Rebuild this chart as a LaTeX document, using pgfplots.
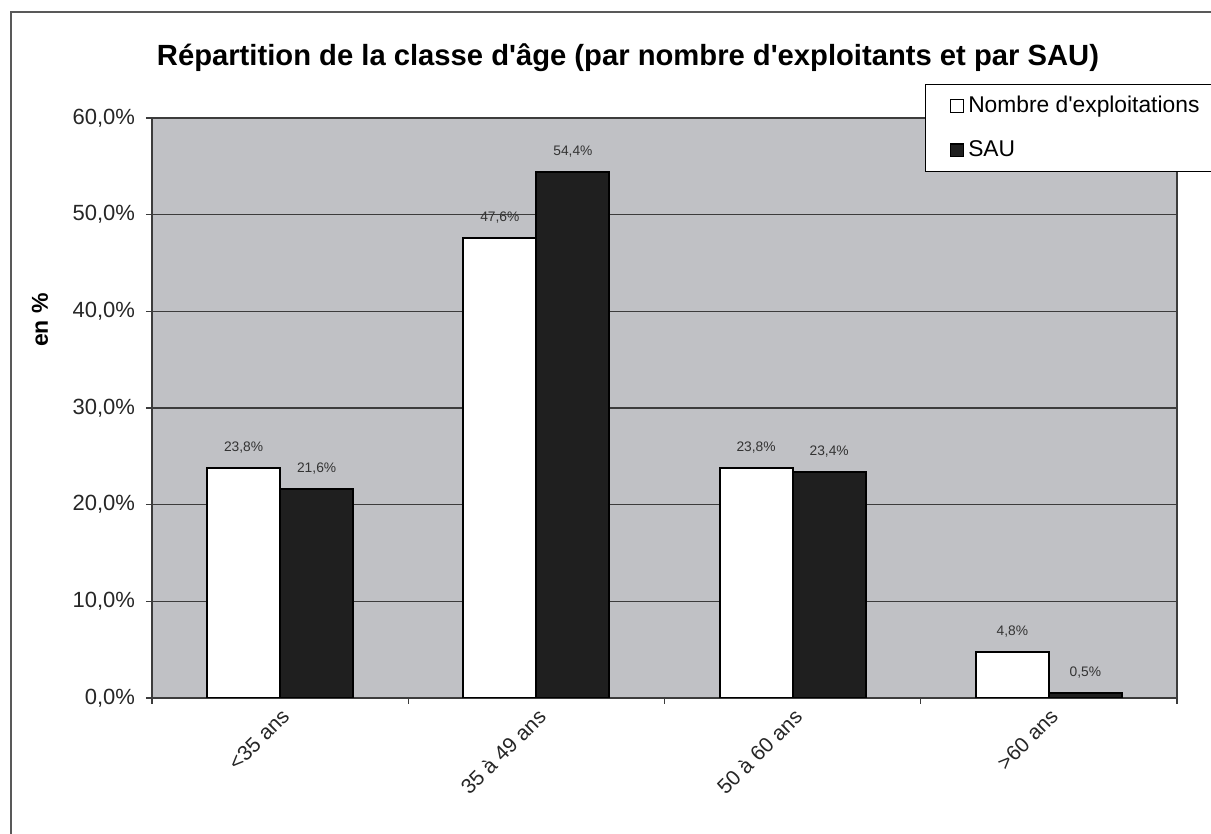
\documentclass[border=0pt]{standalone}
\usepackage{pgfplots}
\pgfplotsset{compat=1.18}
\usepackage{fontspec}
\setmainfont{Liberation Sans}
\definecolor{plotbg}{RGB}{192,193,197}
\definecolor{gridc}{RGB}{60,60,60}
\begin{document}
\begin{tikzpicture}
\path[use as bounding box] (0,0) rectangle (605.5pt,417pt);
\draw[gray!70!black, line width=0.6pt] (5.5pt,0) -- (5.5pt,411pt) -- (606pt,411pt);
\node[font=\bfseries\fontsize{14.6}{17}\selectfont] at (314pt,388pt)
  {Répartition de la classe d\textquotesingle âge (par nombre d\textquotesingle exploitants et par SAU)};
\node[font=\bfseries\fontsize{11.5}{13}\selectfont, rotate=90] at (20pt,257pt) {en \%};
\begin{axis}[
  at={(76pt,68pt)}, anchor=south west,
  scale only axis, width=512.5pt, height=290pt,
  /pgf/number format/assume math mode=true,
  axis background/.style={fill=plotbg},
  axis line style={draw=gridc, line width=0.7pt},
  ymin=0, ymax=60, xmin=-0.5, xmax=3.5,
  ytick={0,10,...,60},
  yticklabel={\pgfmathprintnumber[fixed,fixed zerofill,precision=1,use comma]{\tick}\%},
  yticklabel style={font=\fontsize{11}{12}\selectfont, text=black!85, xshift=-2pt},
  ymajorgrids, grid style={gridc, line width=0.6pt},
  xtick={-0.5,0.5,1.5,2.5,3.5}, x tick label as interval,
  xticklabels={<35 ans, 35 à 49 ans, 50 à 60 ans, >60 ans},
  xticklabel style={rotate=45, anchor=north east, inner sep=1pt,
    font=\fontsize{10.5}{12}\selectfont, text=black!85},
  tick align=outside, xtick pos=bottom, ytick pos=left,
  major tick length=3pt, tick style={draw=gridc, line width=0.7pt},
  ybar=0pt, bar width=0.285,
  nodes near coords={\pgfmathprintnumber[fixed,fixed zerofill,precision=1,use comma]{\pgfplotspointmeta}\%},
  nodes near coords style={font=\fontsize{6.9}{8}\selectfont, text=black!80, yshift=3.5pt},
  legend style={at={(0.754,1.0586)}, anchor=north west, draw=black, fill=white,
    font=\fontsize{11.4}{13}\selectfont, row sep=8.5pt, inner xsep=12.5pt, inner ysep=4pt},
  legend cell align=left,
]
\addplot[fill=white, draw=black, line width=1pt,
  legend image code/.code={\draw[fill=white, draw=black, line width=0.6pt] (0pt,-3.2pt) rectangle (6.4pt,3.2pt);}]
  coordinates {(0,23.8)(1,47.6)(2,23.8)(3,4.8)};
\addlegendentry{Nombre d\textquotesingle exploitations\hspace*{20pt}}
\addplot[fill=black!88, draw=black, line width=1pt,
  legend image code/.code={\draw[fill=black!88, draw=black, line width=0.6pt] (0pt,-3.2pt) rectangle (6.4pt,3.2pt);}]
  coordinates {(0,21.6)(1,54.4)(2,23.4)(3,0.5)};
\addlegendentry{SAU}
\end{axis}
\end{tikzpicture}
\end{document}
